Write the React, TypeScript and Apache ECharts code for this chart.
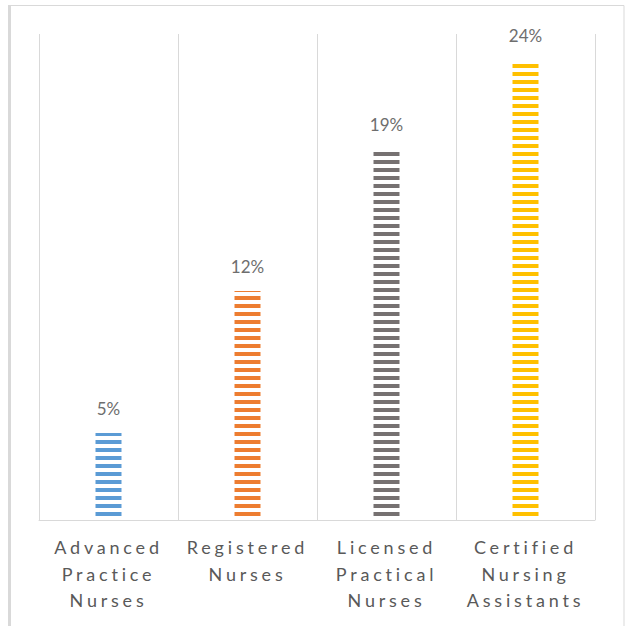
import React, { useEffect, useRef } from "react";
import * as echarts from "echarts";

const categories = [
  "Advanced Practice Nurses",
  "Registered Nurses",
  "Licensed Practical Nurses",
  "Certified Nursing Assistants",
];
const values = [4.54, 11.95, 19.36, 24.0];
const colors = ["#5B9BD5", "#ED7D31", "#767171", "#FFC000"];

export default function App() {
  const ref = useRef<HTMLDivElement>(null);
  useEffect(() => {
    if (!ref.current) return;
    const chart = echarts.init(ref.current, null, { renderer: "svg" });
    chart.setOption({
      animation: false,
      backgroundColor: "#ffffff",
      grid: { left: 39, right: 32, top: 34, bottom: 106 },
      xAxis: {
        type: "category",
        data: categories,
        axisLine: { lineStyle: { color: "#d9d9d9", width: 1 } },
        axisTick: { show: false },
        splitLine: { show: true, lineStyle: { color: "#d9d9d9", width: 1 } },
        axisLabel: {
          interval: 0,
          formatter: (v: string) => v.split(" ").join("\n"),
          color: "#595959",
          fontSize: 18,
          lineHeight: 26.5,
          fontFamily: "Lato, 'Noto Sans'",
          margin: 14,
        },
      },
      yAxis: { type: "value", min: 0, max: 25.36, show: false },
      graphic: [
        {
          type: "rect",
          shape: { x: 8.5, y: 5.5, width: 615.5, height: 700 },
          style: { fill: "none", stroke: "#d9d9d9", lineWidth: 1 },
          silent: true,
        },
        {
          type: "rect",
          shape: { x: 8, y: 5, width: 3, height: 621 },
          style: { fill: "#d9d9d9" },
          silent: true,
        },
      ],
      series: [
        {
          type: "bar",
          barWidth: 26,
          data: values.map((v, i) => ({
            value: v,
            itemStyle: {
              color: "#ffffff",
              decal: {
                symbol: "rect",
                symbolSize: 1,
                dashArrayX: [20, 0],
                dashArrayY: [4, 3.5],
                rotation: 0,
                color: colors[i],
                backgroundColor: "#ffffff",
              },
            },
          })),
          label: {
            show: true,
            position: "top",
            distance: 16,
            formatter: (p: any) => Math.round(p.value) + "%",
            color: "#6e6e6e",
            fontSize: 17,
            fontFamily: "Lato",
          },
        },
      ],
    });
    return () => chart.dispose();
  }, []);
  return (
    <>
      <style>{`.chart text[style*="Noto"], .chart text[font-family*="Noto"] { letter-spacing: 3.8px; }`}</style>
      <div
        className="chart"
        ref={ref}
        style={{ position: "absolute", left: 0, top: 0, width: 627, height: 626 }}
      />
    </>
  );
}
